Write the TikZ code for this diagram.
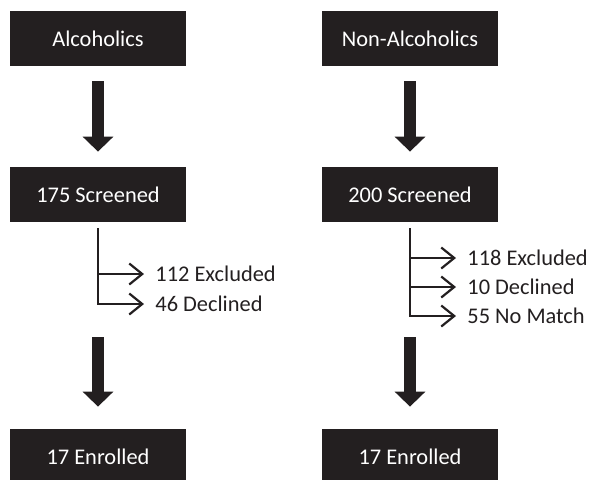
\documentclass[tikz,border=0pt]{standalone}
\usepackage{fontspec}
\setmainfont{Carlito}
\usepackage{xcolor}
\usepackage{tikz}
\usetikzlibrary{arrows.meta}
\definecolor{boxdark}{HTML}{231F20}

\begin{document}
\begin{tikzpicture}[x=0.5pt, y=-0.5pt,
    box/.style={fill=boxdark, text=white, minimum width=88pt, minimum height=27.5pt,
        inner sep=0pt, font=\fontsize{11.2}{13}\selectfont},
    lbl/.style={anchor=west, inner sep=0pt, text=boxdark, font=\fontsize{11.2}{13}\selectfont},
    bigarrow/.style={draw=boxdark, line width=6pt, -{Triangle[width=15pt, length=7.5pt]}},
    branch/.style={draw=boxdark, line width=1.1pt, -{Straight Barb[length=6.5pt, width=10.5pt]}}]
    \useasboundingbox (0,0) rectangle (589,479);

    % Hai nhóm
    \node[box] (alc) at (98,38.5) {Alcoholics};
    \node[box] (non) at (410,38.5) {Non-Alcoholics};
    \node[box] (alcscr) at (98,194.5) {175 Screened};
    \node[box] (nonscr) at (410,194.5) {200 Screened};
    \node[box] (alcenr) at (98,456.5) {17 Enrolled};
    \node[box] (nonenr) at (410,456.5) {17 Enrolled};

    % Mũi tên lớn
    \draw[bigarrow, shorten <=7.5pt, shorten >=7.5pt] (alc) -- (alcscr);
    \draw[bigarrow, shorten <=7.5pt, shorten >=7.5pt] (non) -- (nonscr);
    \draw[bigarrow, shorten <=57.5pt, shorten >=11pt] (alcscr) -- (alcenr);
    \draw[bigarrow, shorten <=57.5pt, shorten >=11pt] (nonscr) -- (nonenr);

    % Nhánh loại trừ
    \node[lbl] (alcexc) at (155,274) {112 Excluded};
    \node[lbl] (alcdec) at (155,304) {46 Declined};
    \draw[branch, shorten >=5.5pt] ([yshift=-2.85pt]alcscr.south) |- (alcdec.west);
    \draw[branch, shorten >=5.5pt] (alcexc.west -| alcscr.south) -- (alcexc.west);

    \node[lbl] (nonexc) at (467,258) {118 Excluded};
    \node[lbl] (nondec) at (467,287) {10 Declined};
    \node[lbl] (nonmat) at (467,316) {55 No Match};
    \draw[branch, shorten >=5.5pt] ([yshift=-2.85pt]nonscr.south) |- (nonmat.west);
    \foreach \n in {nonexc, nondec} {
        \draw[branch, shorten >=5.5pt] (\n.west -| nonscr.south) -- (\n.west);
    }
\end{tikzpicture}
\end{document}
